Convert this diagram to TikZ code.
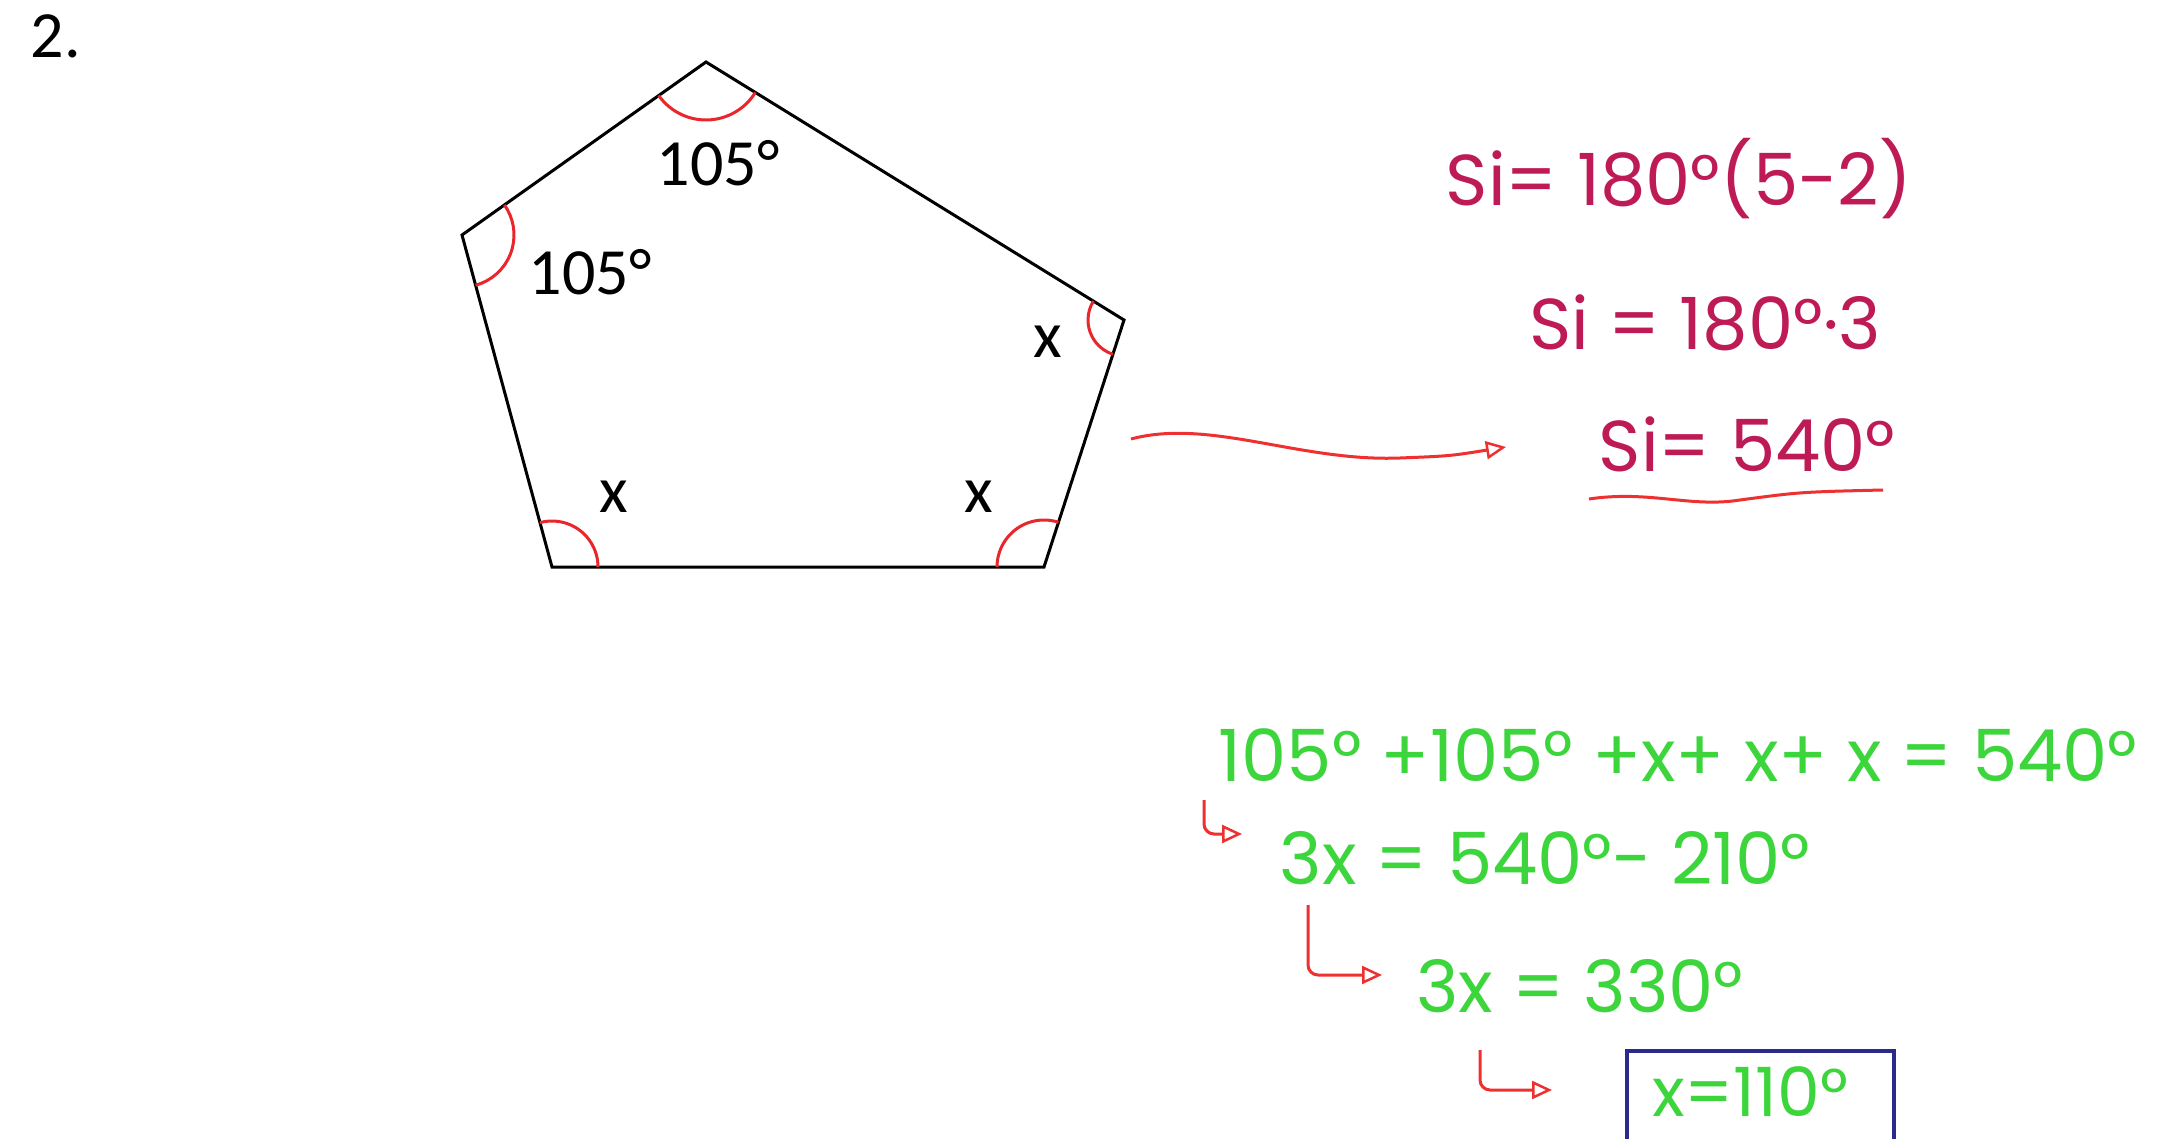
\documentclass[tikz,border=0pt]{standalone}
\usepackage{fontspec}
\setmainfont{Carlito}
\newfontfamily\hand{Poppins}
\usetikzlibrary{arrows.meta,angles}
\definecolor{hred}{HTML}{BE1A55}
\definecolor{ared}{HTML}{EE3030}
\definecolor{hgreen}{HTML}{3CD63C}
\definecolor{boxblue}{HTML}{2B2A8C}
\definecolor{arcred}{HTML}{E8262B}
\tikzset{
  typed/.style={font=\fontsize{66}{70}\selectfont, text=black, inner sep=0pt},
  redtext/.style={font=\hand\fontsize{72}{80}\selectfont, text=hred, inner sep=0pt},
  greentext/.style={font=\hand\fontsize{72}{80}\selectfont, text=hgreen, inner sep=0pt},
  anglearc/.style={draw=arcred, line width=3},
  opentip/.style={-{Triangle[open,length=20pt,width=18pt,line width=2.5pt]}},
  hook/.style={draw=ared, line width=3, rounded corners=10, opentip},
}
\begin{document}
\begin{tikzpicture}[x=1pt,y=-1pt]
\useasboundingbox (0,0) rectangle (2163,1139);
\fill[white] (0,0) rectangle (2163,1139);
% label
\node[typed] (num) at (56,36) {2.};
% pentagon
\coordinate (T) at (706,62);
\coordinate (L) at (462,235);
\coordinate (R) at (1124,320);
\coordinate (BR) at (1044,567);
\coordinate (BL) at (552,567);
\draw[line width=3, line join=miter] (T)--(R)--(BR)--(BL)--(L)--cycle;
\pic[anglearc, angle radius=58] {angle = L--T--R};
\pic[anglearc, angle radius=52] {angle = BL--L--T};
\pic[anglearc, angle radius=36] {angle = T--R--BR};
\pic[anglearc, angle radius=47] {angle = R--BR--BL};
\pic[anglearc, angle radius=46] {angle = BR--BL--L};
\node[typed] (aT) at (718,163) {105°};
\node[typed] (aL) at (590,272) {105°};
\node[typed] (aR) at (1048,342) {x};
\node[typed] (aBL) at (614,497) {x};
\node[typed] (aBR) at (979,497) {x};
% red computation
\node[redtext] (s1) at (1679,179) {Si= 180°(5-2)};
\node[redtext] (s2) at (1705,323) {Si = 180°·3};
\node[redtext] (s3) at (1747,444) {Si= 540°};
\coordinate (u1) at (1589,499);
\coordinate (u2) at (1883,490);
\draw[draw=ared, line width=3] (u1) .. controls (1650,490) and (1690,508) .. (1740,500) .. controls (1800,492) .. (u2);
% arrow from pentagon
\coordinate (p0) at (1131,439);
\coordinate (p1) at (1506,447);
\draw[draw=ared, line width=3, opentip] (p0) .. controls (1210,418) and (1300,462) .. (1400,458) .. controls (1450,456) .. (p1);
% green computation
\node[greentext] (g1) at (1678,755) {105° +105° +x+ x+ x = 540°};
\node[greentext] (g2) at (1545,858) {3x = 540°- 210°};
\node[greentext] (g3) at (1580,986) {3x = 330°};
\node[greentext, font=\hand\fontsize{68}{72}\selectfont, text depth=0pt] (g4) at (1750,1092) {x=110°};
\draw[draw=boxblue, line width=4.5] (1627,1160) |- (1894,1051) -- (1894,1160);
% hooks
\coordinate (h1a) at (1204,800);
\coordinate (h1b) at (1242,834);
\coordinate (h2a) at (1308,905);
\coordinate (h2b) at (1382,975);
\coordinate (h3a) at (1480,1050);
\coordinate (h3b) at (1552,1090);
\draw[hook] (h1a) |- (h1b);
\draw[hook] (h2a) |- (h2b);
\draw[hook] (h3a) |- (h3b);
\end{tikzpicture}
\end{document}
